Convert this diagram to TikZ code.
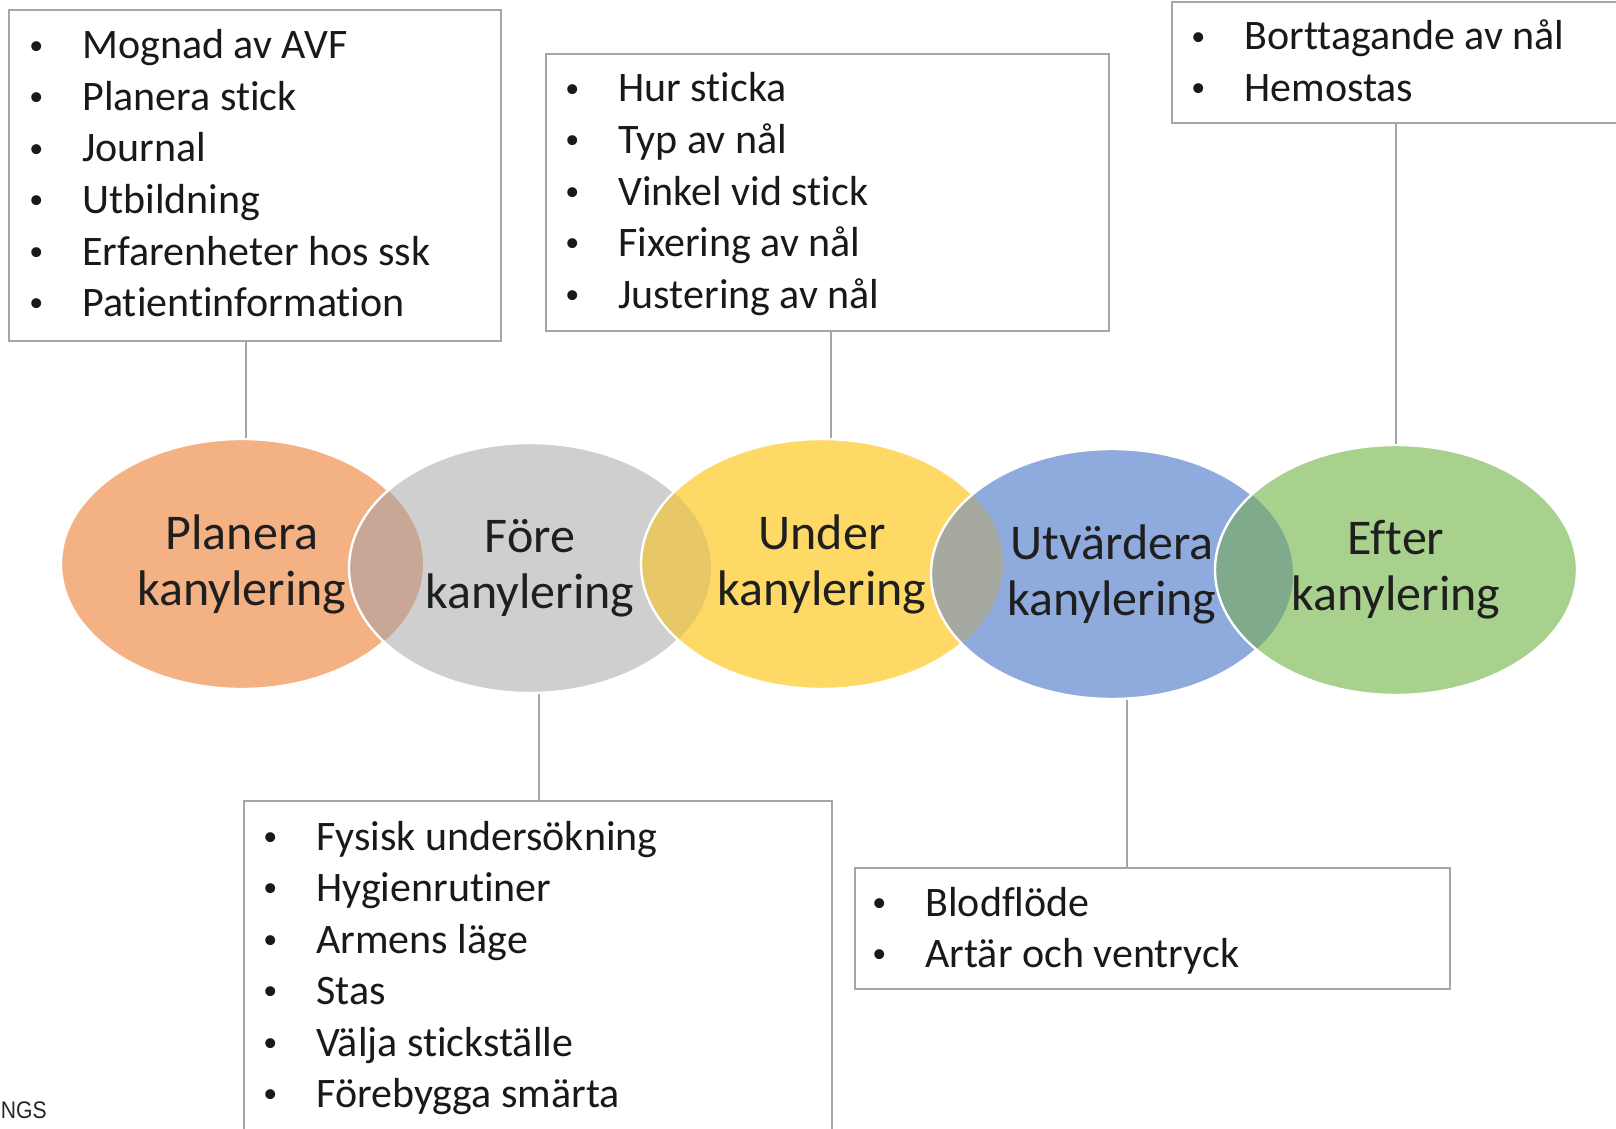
\documentclass[tikz,border=0pt]{standalone}
\usepackage{fontspec}
\setmainfont[Ligatures=NoCommon]{Carlito}
\newfontfamily\logofont{Liberation Sans}
\usepackage{tikz}
\usetikzlibrary{shapes, fit}
\definecolor{planfill}{HTML}{F4B183}
\definecolor{forefill}{HTML}{D0CFCF}
\definecolor{underfill}{HTML}{FFD966}
\definecolor{utvfill}{HTML}{8FAADC}
\definecolor{efterfill}{HTML}{A9D18E}
\definecolor{planfore}{HTML}{C9A796}
\definecolor{foreunder}{HTML}{E8C866}
\definecolor{underutv}{HTML}{A6A99F}
\definecolor{utvefter}{HTML}{7FAB8C}
\definecolor{panelgray}{HTML}{A6A6A6}
\newcommand{\bul}{\llap{\raisebox{2.4pt}{\fontsize{14}{14}\selectfont\textbullet}\hspace{19.5pt}}}

\begin{document}
\begin{tikzpicture}[x=0.5pt, y=-0.5pt, phase/.style = {ellipse, draw=white, line width=1.2pt, minimum width=181pt, minimum height=125pt, inner sep=0pt, align=center, text=black!88, font=\fontsize{25}{28}\selectfont}, panel/.style = {draw=panelgray, line width=1pt, inner sep=0pt}, item/.style = {anchor=base west, inner sep=0pt, text=black!90, font=\fontsize{21}{25}\selectfont}, link/.style = {draw=panelgray, line width=1pt}]

    \path[use as bounding box, fill=white] (0,0) rectangle (1616,1129);

    \node[phase, fill=planfill] (plan) at (242,564) {Planera\\kanylering};
    \node[phase, fill=forefill, path picture={\fill[planfore] (plan.center) ellipse [x radius=181, y radius=125];}] (fore) at (530,568) {Före\\kanylering};
    \node[phase, fill=underfill, path picture={\fill[foreunder] (fore.center) ellipse [x radius=181, y radius=125];}] (under) at (822,564) {Under\\kanylering};
    \node[phase, fill=utvfill, path picture={\fill[underutv] (under.center) ellipse [x radius=181, y radius=125];}] (utv) at (1112,574) {Utvärdera\\kanylering};
    \node[phase, fill=efterfill, path picture={\fill[utvefter] (utv.center) ellipse [x radius=181, y radius=125];}] (efter) at (1396,570) {Efter\\kanylering};

    \node[panel, fit={(9,10) (501,341)}] (planbox) {};
    \node[panel, fit={(546,54) (1109,331)}] (underbox) {};
    \node[panel, fit={(1172,2) (1640,123)}] (efterbox) {};
    \node[panel, fit={(244,801) (832,1150)}] (forebox) {};
    \node[panel, fit={(855,868) (1450,989)}] (utvbox) {};

    \foreach \txt [count=\i] in {Mognad av AVF, Planera stick, Journal, Utbildning, Erfarenheter hos ssk, Patientinformation}
        \node[item] (planitem\i) at (82, {59+51.5*(\i-1)}) {\bul\txt};
    \foreach \txt [count=\i] in {Hur sticka, Typ av nål, Vinkel vid stick, Fixering av nål, Justering av nål}
        \node[item] (underitem\i) at (618, {102+51.5*(\i-1)}) {\bul\txt};
    \foreach \txt [count=\i] in {Borttagande av nål, Hemostas}
        \node[item] (efteritem\i) at (1244, {50+51.5*(\i-1)}) {\bul\txt};
    \foreach \txt [count=\i] in {Fysisk undersökning, Hygienrutiner, Armens läge, Stas, Välja stickställe, Förebygga smärta}
        \node[item] (foreitem\i) at (316, {850+51.5*(\i-1)}) {\bul\txt};
    \foreach \txt [count=\i] in {Blodflöde, Artär och ventryck}
        \node[item] (utvitem\i) at (925, {916+51.5*(\i-1)}) {\bul\txt};

    \draw[link] (planbox.south -| plan.88) -- (plan.88);
    \draw[link] (underbox.south -| under.86) -- (under.86);
    \draw[link] (efterbox.south -| efter.north) -- (efter.north);
    \draw[link] (fore.-86) -- (fore.-86 |- forebox.north);
    \draw[link] (utv.-83) -- (utv.-83 |- utvbox.north);

    \node[anchor=base east, inner sep=0pt, text=black!85, font=\logofont\fontsize{12}{14}\selectfont] (logo) at (47,1118) {\scalebox{0.88}[1]{NGS}};
\end{tikzpicture}
\end{document}
